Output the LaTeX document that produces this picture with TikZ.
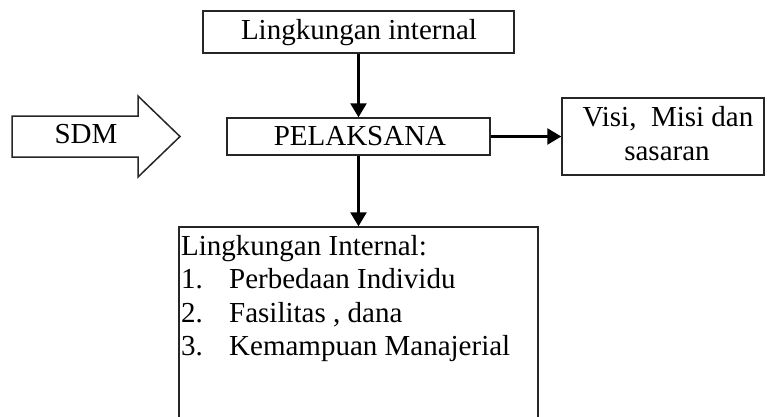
\documentclass[tikz,border=0pt]{standalone}
\usepackage{fontspec}
\setmainfont{Liberation Serif}
\usetikzlibrary{arrows.meta}
\begin{document}
\begin{tikzpicture}[x=1pt,y=-1pt,
  box/.style={draw=black!85, line width=1.4pt, rectangle, inner sep=0pt},
  flow/.style={line width=2.4pt, -{Triangle[length=14pt,width=16pt]}},
  txt/.style={font=\fontsize{29}{34}\selectfont, inner sep=0pt}]
\useasboundingbox (0,0) rectangle (767,416);
\clip (0,0) rectangle (767,416);

% boxes
\node[box, minimum width=311pt, minimum height=42pt] (env) at (358.5,32) {};
\node[box, minimum width=263pt, minimum height=37pt] (pel) at (358.5,136.5) {};
\node[box, minimum width=202pt, minimum height=77pt] (visi) at (663,136.5) {};
\node[box, minimum width=359pt, minimum height=213pt] (lst) at (358.5,333.5) {};

% block arrow for SDM
\draw[draw=black!85, line width=1.5pt, fill=white]
  (12,116) -- (138,116) -- (138,96) -- (180,136.5) -- (138,177) -- (138,157) -- (12,157) -- cycle;

% texts
\node[txt, anchor=base] (envt) at (359,39) {Lingkungan internal};
\node[txt, anchor=base] (pelt) at (360,145) {PELAKSANA};
\node[txt, anchor=base] (visia) at (668,126) {Visi,\ \ Misi dan};
\node[txt, anchor=base] (visib) at (667,160) {sasaran};
\node[txt, anchor=base] (sdm) at (86,143) {SDM};

\node[txt, anchor=base west] (l0) at (181,255) {Lingkungan Internal:};
\node[txt, anchor=base west] (l1) at (181,288.5) {\makebox[48pt][l]{1.}Perbedaan Individu};
\node[txt, anchor=base west] (l2) at (181,322) {\makebox[48pt][l]{2.}Fasilitas , dana};
\node[txt, anchor=base west] (l3) at (181,355.5) {\makebox[48pt][l]{3.}Kemampuan Manajerial};

% connectors
\draw[flow] (env.south) -- (pel.north);
\draw[flow] (pel.east) -- (visi.west);
\draw[flow] (pel.south) -- (lst.north);
\end{tikzpicture}
\end{document}
